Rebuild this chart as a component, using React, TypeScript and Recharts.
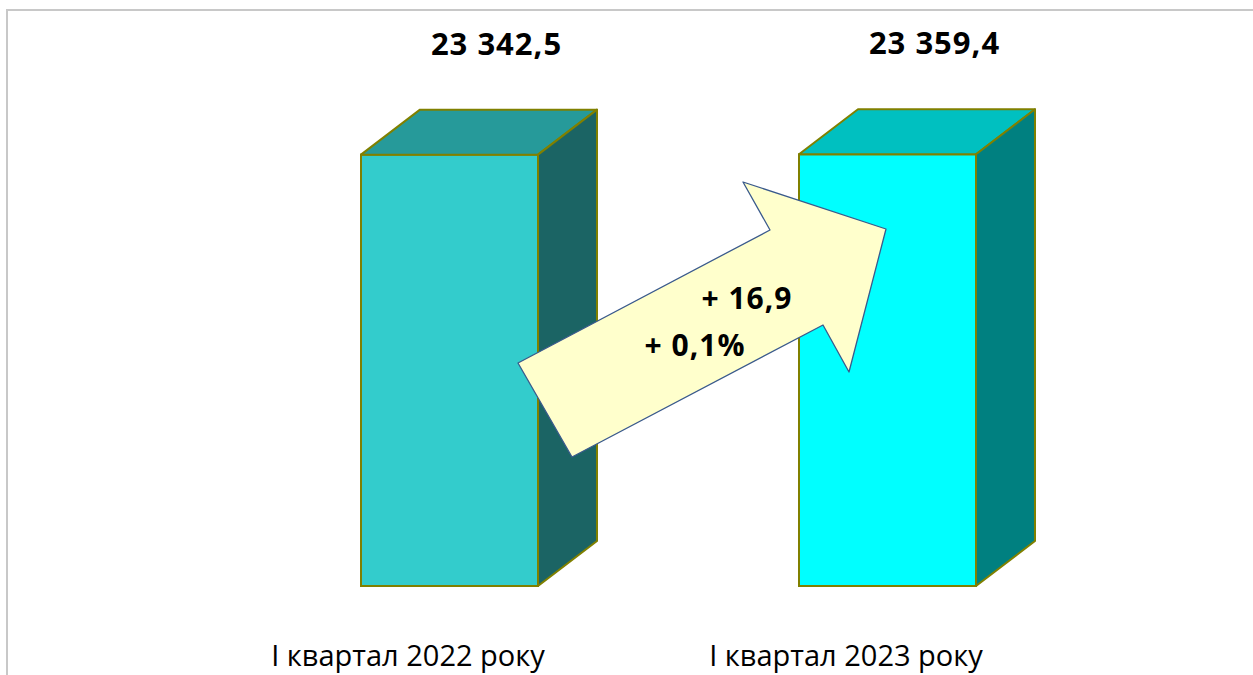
import { Bar, BarChart, LabelList, XAxis, YAxis } from 'recharts'

const categories = ['І квартал 2022 року', 'І квартал 2023 року']
const values = [23342.5, 23359.4]

// front / top / side shades of each box
const frontColors = ['#33CCCC', '#00FFFF']
const topColors = ['#269A9A', '#00C0C0']
const sideColors = ['#1B6464', '#008080']

const DX = 59
const DY = 45

const data = categories.map((name, i) => ({ name, value: values[i] }))

const fmt = (v: number) =>
  v.toFixed(1).replace('.', ',').replace(/\B(?=(\d{3})+(?!\d))/g, ' ')

const diff = values[1] - values[0]
const pct = (diff / values[0]) * 100
const diffLabel = `+ ${diff.toFixed(1).replace('.', ',')}`
const pctLabel = `+ ${pct.toFixed(1).replace('.', ',')}%`

function Box(props: any) {
  const { x, y, width, height, index } = props
  const stroke = '#808000'
  return (
    <g>
      <rect x={x} y={y} width={width} height={height} fill={frontColors[index]} stroke={stroke} strokeWidth={2} />
      <polygon
        points={`${x},${y} ${x + DX},${y - DY} ${x + width + DX},${y - DY} ${x + width},${y}`}
        fill={topColors[index]}
        stroke={stroke}
        strokeWidth={2}
        strokeLinejoin="round"
      />
      <polygon
        points={`${x + width},${y} ${x + width + DX},${y - DY} ${x + width + DX},${y + height - DY} ${x + width},${y + height}`}
        fill={sideColors[index]}
        stroke={stroke}
        strokeWidth={2}
        strokeLinejoin="round"
      />
    </g>
  )
}

function ValueLabel(props: any) {
  const { x, y, width, value } = props
  return (
    <text
      x={x + width / 2 + 47}
      y={y - 100}
      textAnchor="middle"
      fontFamily="'Open Sans', sans-serif"
      fontWeight={700}
      fontSize={31}
      letterSpacing={1}
      fill="#000"
    >
      {fmt(value)}
    </text>
  )
}

function CategoryTick(props: any) {
  const { x, y, payload } = props
  return (
    <text
      x={x - 41}
      y={y + 72}
      textAnchor="middle"
      fontFamily="'Open Sans', sans-serif"
      fontSize={29}
      fill="#000"
    >
      {payload.value}
    </text>
  )
}

export default function App() {
  return (
    <div style={{ position: 'absolute', left: 0, top: 0, width: 1253, height: 675, background: '#fff' }}>
      <div
        style={{
          position: 'absolute',
          left: 6,
          top: 9,
          right: 0,
          bottom: 0,
          borderTop: '2px solid #C8C8C8',
          borderLeft: '2px solid #C8C8C8',
        }}
      />
      <BarChart
        width={1253}
        height={675}
        data={data}
        margin={{ top: 124, right: 147, bottom: 0, left: 230 }}
        barCategoryGap={130}
      >
        <XAxis dataKey="name" axisLine={false} tickLine={false} height={89} tick={<CategoryTick />} interval={0} />
        <YAxis hide domain={[0, 25000]} />
        <Bar dataKey="value" barSize={177} shape={<Box />} isAnimationActive={false}>
          <LabelList dataKey="value" content={<ValueLabel />} />
        </Bar>
      </BarChart>
      <svg width={1253} height={675} style={{ position: 'absolute', left: 0, top: 0, pointerEvents: 'none' }}>
        <polygon
          points="518,363 572,457 823,325 849,372 886,229 743,182 770,230"
          fill="#FFFFCC"
          stroke="#3A5A8C"
          strokeWidth={1.3}
          strokeLinejoin="round"
        />
        <text x={747} y={309} textAnchor="middle" fontFamily="'Open Sans', sans-serif" fontWeight={700} fontSize={30} letterSpacing={1}>
          {diffLabel}
        </text>
        <text x={695} y={356} textAnchor="middle" fontFamily="'Open Sans', sans-serif" fontWeight={700} fontSize={30} letterSpacing={1}>
          {pctLabel}
        </text>
      </svg>
    </div>
  )
}
